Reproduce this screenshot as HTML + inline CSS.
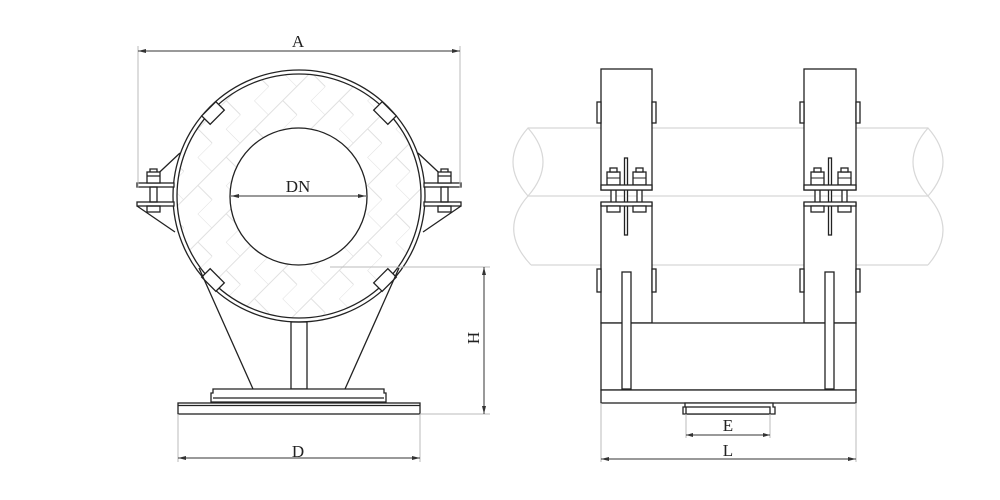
<!DOCTYPE html>
<html><head><meta charset="utf-8"><style>
html,body{margin:0;padding:0;background:#fff;width:1000px;height:500px;overflow:hidden}
svg{display:block}
text{font-family:"Liberation Serif",serif;font-size:17px;fill:#222}
</style></head><body>
<svg width="1000" height="500" viewBox="0 0 1000 500" xmlns="http://www.w3.org/2000/svg">
<defs>
<pattern id="hb" width="40" height="40" patternUnits="userSpaceOnUse" patternTransform="rotate(45 299 196)">
<path d="M0 0H20V20H40M0 20V40M20 20V40M20 0V-0" stroke="#e0e0e0" stroke-width="1" fill="none"/>
</pattern>
<clipPath id="ann"><path d="M299 74a122 122 0 1 0 0.01 0ZM299 127.5a68.5 68.5 0 1 1 -0.01 0Z" clip-rule="evenodd"/></clipPath>
</defs>
<g stroke="#d8d8d8" stroke-width="1.2" fill="none">
<path d="M528 128H928M528 196H928M531 265H928"/>
<path d="M528 128Q498 162 528 196Q558 162 528 128Z"/>
<path d="M528 196Q498 230 531 265"/>
<path d="M928 128Q958 162 928 196Q898 162 928 128Z"/>
<path d="M928 196Q958 230 928 265"/>
</g>
<g fill="none" stroke="#222" stroke-width="1.3">
<rect x="160" y="70" width="280" height="260" fill="url(#hb)" stroke="none" clip-path="url(#ann)"/>
<circle cx="299" cy="196" r="126"/>
<circle cx="299" cy="196" r="122"/>
<circle cx="298.5" cy="196.5" r="68.5" fill="#fff"/>
<rect x="-10" y="-6" width="20" height="12" transform="translate(213 113) rotate(-45)" fill="#fff"/>
<rect x="-10" y="-6" width="20" height="12" transform="translate(385 113) rotate(45)" fill="#fff"/>
<rect x="-10" y="-6" width="20" height="12" transform="translate(213 280) rotate(45)" fill="#fff"/>
<rect x="-10" y="-6" width="20" height="12" transform="translate(385 280) rotate(-45)" fill="#fff"/>
<path d="M148 183L180 153M137 206L175 232"/>
<rect x="137" y="183" width="37" height="4" fill="#fff"/>
<rect x="137" y="202" width="37" height="4" fill="#fff"/>
<rect x="150" y="187" width="7" height="15"/>
<rect x="147" y="172" width="13" height="11" fill="#fff"/>
<path d="M147 176H160M150 172V169H157V172"/>
<rect x="147" y="206" width="13" height="6"/>
<path d="M450 183L418 153M461 206L423 232"/>
<rect x="424" y="183" width="37" height="4" fill="#fff"/>
<rect x="424" y="202" width="37" height="4" fill="#fff"/>
<rect x="441" y="187" width="7" height="15"/>
<rect x="438" y="172" width="13" height="11" fill="#fff"/>
<path d="M438 176H451M441 172V169H448V172"/>
<rect x="438" y="206" width="13" height="6"/>
<path d="M199 268L253 389M399 268L345 389"/>
<rect x="291" y="322" width="16" height="67"/>
<path d="M211 402V393H213V389H384V393H386V402Z" fill="#fff"/>
<path d="M213 398H384"/>
<rect x="178" y="403" width="242" height="11" fill="#fff"/>
<path d="M178 405.5H420"/>
</g>
<g stroke="#bbb" stroke-width="1" fill="none">
<path d="M138 46V188M460 46V188M178 414V462M420 414V462M330 267H490M420 414H490"/>
</g>
<g stroke="#333" stroke-width="1" fill="none">
<path d="M138 51H460M178 458H420M484 267V414M231 196H366"/>
</g>
<g fill="#333">
<path d="M138 51l8-2v4zM460 51l-8-2v4zM178 458l8-2v4zM420 458l-8-2v4zM484 267l-2 8h4zM484 414l-2-8h4zM231 196l8-2v4zM366 196l-8-2v4z"/>
</g>
<text x="298" y="47" text-anchor="middle">A</text>
<text x="298" y="192" text-anchor="middle">DN</text>
<text x="298" y="457" text-anchor="middle">D</text>
<text x="0" y="0" text-anchor="middle" transform="translate(479 338) rotate(-90)">H</text>
<g fill="#fff" stroke="#222" stroke-width="1.3">
<rect x="601" y="69" width="51" height="121"/>
<rect x="804" y="69" width="52" height="121"/>
<rect x="597" y="102" width="4" height="21"/><rect x="652" y="102" width="4" height="21"/>
<rect x="800" y="102" width="4" height="21"/><rect x="856" y="102" width="4" height="21"/>
<rect x="601" y="203" width="51" height="120"/>
<rect x="804" y="203" width="52" height="120"/>
<rect x="597" y="269" width="4" height="23"/><rect x="652" y="269" width="4" height="23"/>
<rect x="800" y="269" width="4" height="23"/><rect x="856" y="269" width="4" height="23"/>
<rect x="601" y="323" width="255" height="67"/>
<rect x="601" y="390" width="255" height="13"/>
<path d="M683 414V407H685V403H773V407H775V414Z"/>
<rect x="686" y="407" width="84" height="7"/>
<rect x="622" y="272" width="9" height="117"/>
<rect x="825" y="272" width="9" height="117"/>
<rect x="624.5" y="158" width="3" height="77"/>
<rect x="611" y="190" width="5" height="13"/><rect x="637" y="190" width="5" height="13"/>
<rect x="607" y="172" width="13" height="13"/><rect x="633" y="172" width="13" height="13"/>
<rect x="610" y="168" width="7" height="4"/><rect x="636" y="168" width="7" height="4"/>
<rect x="601" y="185" width="51" height="5"/>
<rect x="601" y="202" width="51" height="4"/>
<rect x="607" y="206" width="13" height="6"/><rect x="633" y="206" width="13" height="6"/>
<rect x="828.5" y="158" width="3" height="77"/>
<rect x="815" y="190" width="5" height="13"/><rect x="842" y="190" width="5" height="13"/>
<rect x="811" y="172" width="13" height="13"/><rect x="838" y="172" width="13" height="13"/>
<rect x="814" y="168" width="7" height="4"/><rect x="841" y="168" width="7" height="4"/>
<rect x="804" y="185" width="52" height="5"/>
<rect x="804" y="202" width="52" height="4"/>
<rect x="811" y="206" width="13" height="6"/><rect x="838" y="206" width="13" height="6"/>
</g>
<g stroke="#222" stroke-width="1" fill="none">
<path d="M607 178H620M633 178H646M811 178H824M838 178H851"/>
</g>
<g stroke="#bbb" stroke-width="1" fill="none">
<path d="M601 403V462M856 403V462M686 414V438M770 414V438"/>
</g>
<g stroke="#333" stroke-width="1" fill="none"><path d="M601 459H856M686 435H770"/></g>
<g fill="#333"><path d="M601 459l8-2v4zM856 459l-8-2v4zM686 435l7-2v4zM770 435l-7-2v4z"/></g>
<text x="728" y="431" text-anchor="middle">E</text>
<text x="728" y="456" text-anchor="middle">L</text>
</svg>
</body></html>
